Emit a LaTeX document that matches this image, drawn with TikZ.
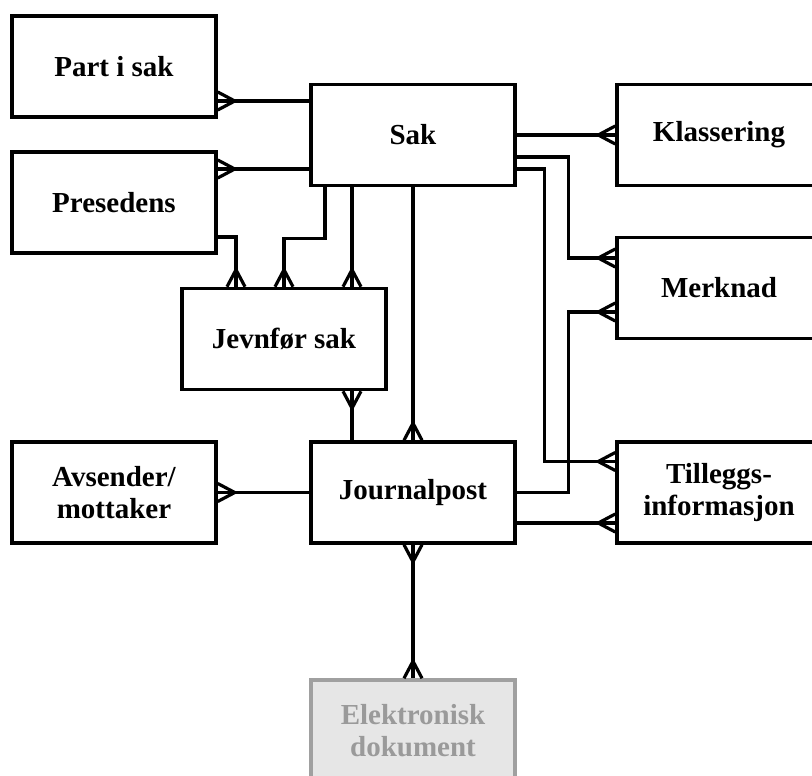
\documentclass[tikz,border=0pt]{standalone}
\usepackage{fontspec}
\setmainfont{Liberation Serif}
\usetikzlibrary{calc}
\definecolor{docfill}{HTML}{E6E6E6}
\definecolor{docline}{HTML}{A0A0A0}
\definecolor{doctext}{HTML}{9A9A9A}
\tikzset{
  entity/.style={draw, line width=3.5pt, minimum width=204pt, minimum height=101pt,
    inner sep=0pt, align=center, font=\bfseries\fontsize{29}{32}\selectfont, fill=white},
  faded/.style={entity, draw=docline, fill=docfill, text=doctext},
  conn/.style={line width=3.2pt, line join=miter},
  crow/.pic={\draw[conn] (0,9) -- (17,0) -- (0,-9);}
}
\begin{document}
\begin{tikzpicture}[x=1pt, y=1pt]
\useasboundingbox (0,0) rectangle (812,-776);

% entities
\node[entity] (part)  at (114,-66.5)  {Part i sak};
\node[entity] (pres)  at (114,-202.5) {Presedens};
\node[entity] (sak)   at (413,-135)   {Sak};
\node[entity] (klass) at (719,-135)   {Klassering};
\node[entity] (merk)  at (719,-288)   {Merknad};
\node[entity] (jevn)  at (284,-339)   {Jevnfør sak};
\node[entity] (avs)   at (114,-492.5) {Avsender/\\mottaker};
\node[entity] (jour)  at (413,-492.5) {Journalpost};
\node[entity] (till)  at (719,-492.5) {Tilleggs-\\informasjon};
\node[faded]  (elek)  at (413,-730.5) {Elektronisk\\dokument};

% relations
\draw[conn] ([yshift=34pt]sak.west) -- ([yshift=-34.5pt]part.east);
\draw[conn] ([yshift=-34pt]sak.west) -- ([yshift=33.5pt]pres.east);
\draw[conn] (sak.east) -- (klass.west);
\draw[conn] ([yshift=-22pt]sak.east) -- ++(52,0) |- ([yshift=30pt]merk.west);
\draw[conn] ([yshift=-34pt]sak.east) -- ++(28,0) |- ([yshift=31pt]till.west);
\draw[conn] (jour.east) -- ++(52,0) |- ([yshift=-24pt]merk.west);
\draw[conn] ([yshift=-30.5pt]jour.east) -- ([yshift=-30.5pt]till.west);
\draw[conn] ([yshift=-34.5pt]pres.east) -| ([xshift=-48pt]jevn.north);
\draw[conn] ([xshift=-88pt]sak.south) -- ++(0,-51) -| (jevn.north);
\draw[conn] ([xshift=-61pt]sak.south) -- ([xshift=68pt]jevn.north);
\draw[conn] ([xshift=68pt]jevn.south) -- ([xshift=-61pt]jour.north);
\draw[conn] (sak.south) -- (jour.north);
\draw[conn] (avs.east) -- (jour.west);
\draw[conn] (jour.south) -- (elek.north);

% crow's feet on the many side
\pic at ([yshift=-34.5pt]part.east) {crow};
\pic at ([yshift=33.5pt]pres.east) {crow};
\pic at (avs.east) {crow};
\pic[rotate=180] at (klass.west) {crow};
\pic[rotate=180] at ([yshift=30pt]merk.west) {crow};
\pic[rotate=180] at ([yshift=-24pt]merk.west) {crow};
\pic[rotate=180] at ([yshift=31pt]till.west) {crow};
\pic[rotate=180] at ([yshift=-30.5pt]till.west) {crow};
\pic[rotate=90] at ([xshift=-48pt]jevn.north) {crow};
\pic[rotate=90] at (jevn.north) {crow};
\pic[rotate=90] at ([xshift=68pt]jevn.north) {crow};
\pic[rotate=-90] at ([xshift=68pt]jevn.south) {crow};
\pic[rotate=90] at (jour.north) {crow};
\pic[rotate=-90] at (jour.south) {crow};
\pic[rotate=90] at (elek.north) {crow};
\end{tikzpicture}
\end{document}
